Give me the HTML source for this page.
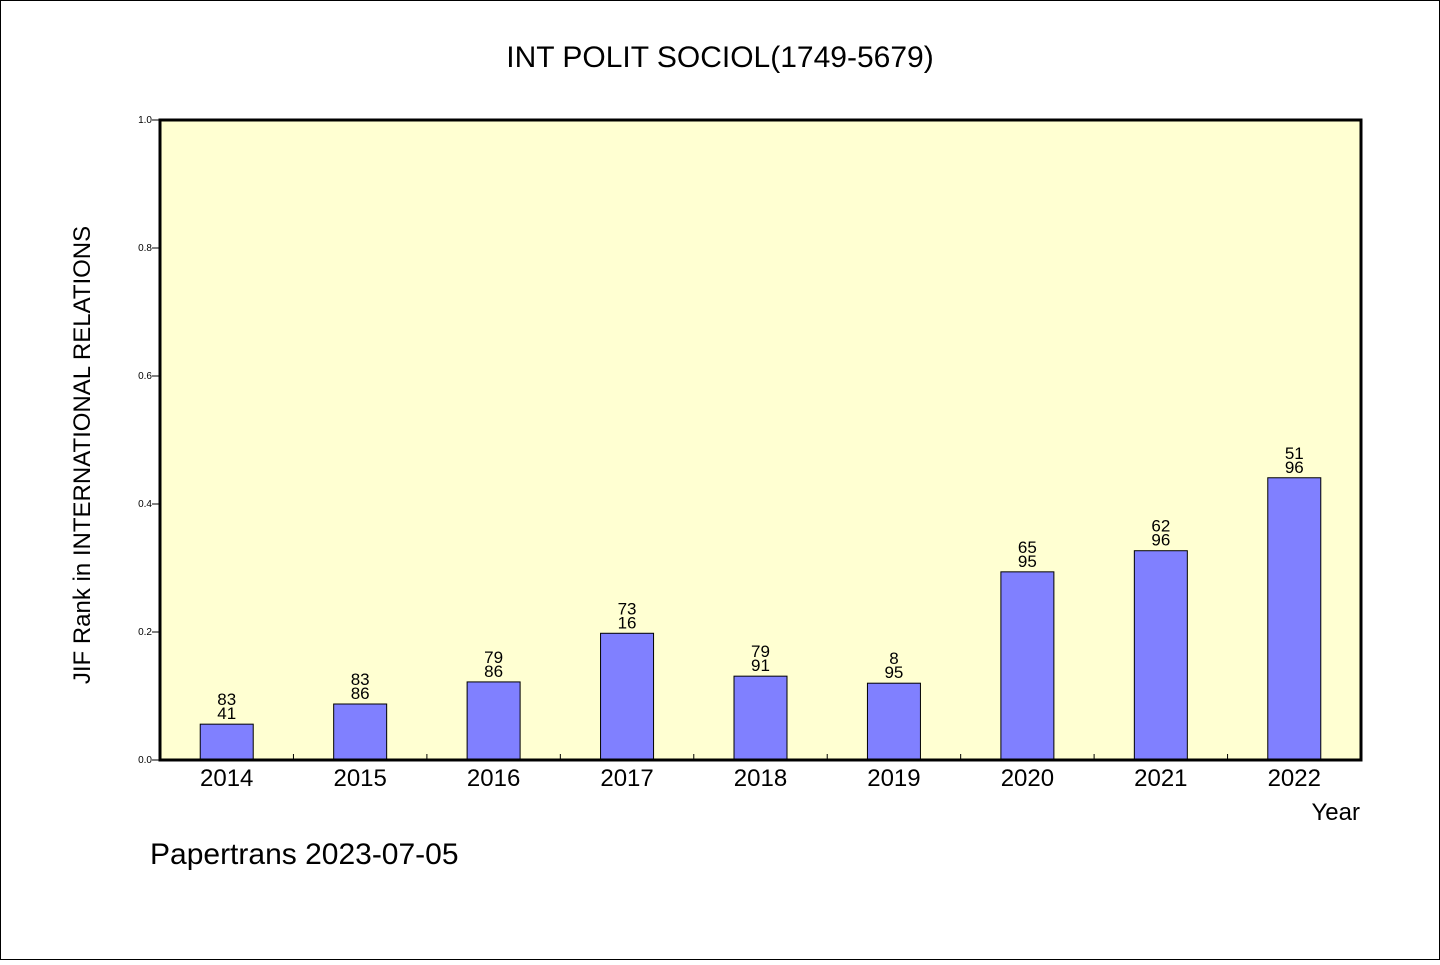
<!DOCTYPE html>
<html><head><meta charset="utf-8"><style>
body{margin:0;background:#fff}
svg text{font-family:"WenQuanYi Zen Hei","Liberation Sans",sans-serif;fill:#000}
</style></head><body>
<svg width="1440" height="960" xmlns="http://www.w3.org/2000/svg">
<rect x="0.5" y="0.5" width="1439" height="959" fill="#fff" stroke="#000"/>
<text x="720" y="67" font-size="30" text-anchor="middle">INT POLIT SOCIOL(1749-5679)</text>
<rect x="160" y="120" width="1201" height="640" fill="#ffffd2"/>
<g id="marks"></g>
<rect x="160" y="120" width="1201" height="640" fill="none" stroke="#000" stroke-width="3"/>
<text transform="translate(90,455) rotate(-90)" font-size="24" text-anchor="middle">JIF Rank in INTERNATIONAL RELATIONS</text>
<text x="1360" y="820" font-size="24" text-anchor="end">Year</text>
<text x="150" y="864" font-size="30">Papertrans 2023-07-05</text>
</svg>
<script>
const categories=["2014","2015","2016","2017","2018","2019","2020","2021","2022"];
const values=[0.056,0.0875,0.122,0.198,0.131,0.120,0.294,0.327,0.441];
const labelTop=["83","83","79","73","79","8","65","62","51"];
const labelBottom=["41","86","86","16","91","95","95","96","96"];
const yTicks=[0,0.2,0.4,0.6,0.8,1.0];
const yTickLabels=["0.0","0.2","0.4","0.6","0.8","1.0"];
const NS="http://www.w3.org/2000/svg";
const X0=160,X1=1361,Y0=760,Y1=120;
const band=(X1-X0)/categories.length;
const xc=i=>X0+band*(i+0.5);
const y=v=>Y0-(v)*(Y0-Y1);
const g=document.getElementById('marks');
function mk(t,a,txt){const e=document.createElementNS(NS,t);for(const k in a)e.setAttribute(k,a[k]);if(txt!=null)e.textContent=txt;g.appendChild(e);return e;}
yTicks.forEach((v,i)=>{
 let l=mk('line',{x1:X0-8,x2:X0,y1:y(v),y2:y(v),stroke:'#000'});
 
 
 let t=mk('text',{x:X0-8,y:y(v)+3,'font-size':10,'text-anchor':'end'},yTickLabels[i]);
 
 
});
for(let i=1;i<categories.length;i++){
 let l=mk('line',{x1:X0+band*i,x2:X0+band*i,y1:Y0,y2:Y0-6,stroke:'#000'});
 
 
}
categories.forEach((c,i)=>{
 const bw=53,top=y(values[i]);
 let r=mk('rect',{x:xc(i)-bw/2,y:top,width:bw,height:Y0-top,fill:'#8080ff',stroke:'#000','stroke-width':1});
 
 
 let t1=mk('text',{x:xc(i),y:top-19,'font-size':17,'text-anchor':'middle'},labelTop[i]);
 
 
 let t2=mk('text',{x:xc(i),y:top-5,'font-size':17,'text-anchor':'middle'},labelBottom[i]);
 
 
 let xl=mk('text',{x:xc(i),y:786,'font-size':24,'text-anchor':'middle'},c);
 
 
});
</script>
</body></html>
